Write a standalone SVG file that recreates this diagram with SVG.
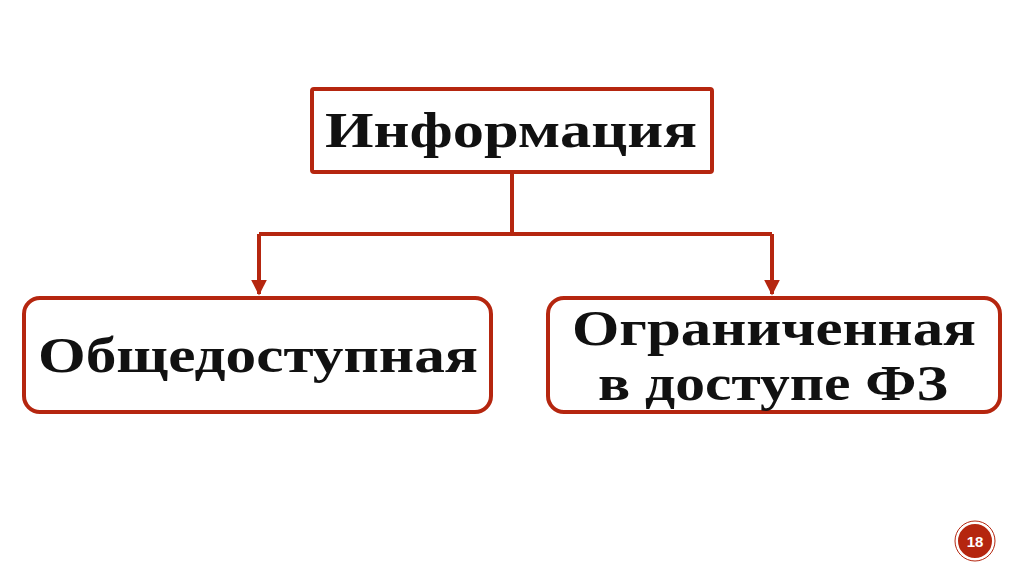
<svg xmlns="http://www.w3.org/2000/svg" width="1024" height="574" viewBox="0 0 1024 574">
<style>
.b{fill:#fff;stroke:#b5260f;stroke-width:4}
.t{font-family:"Liberation Serif",serif;font-weight:bold;font-size:50px;fill:#111;text-anchor:middle}
.c{stroke:#b5260f;stroke-width:4;fill:none}
</style>
<defs><marker id="a" viewBox="0 0 10 10" refX="9" refY="5" markerWidth="4" markerHeight="4" orient="auto"><path d="M0,0L10,5L0,10z" fill="#b5260f"/></marker></defs>
<rect width="1024" height="574" fill="#fff"/>
<g id="connectors">
<path class="c" d="M512,172V234M259,234H772"/>
<path class="c" d="M259,234V294" marker-end="url(#a)"/>
<path class="c" d="M772,234V294" marker-end="url(#a)"/>
</g>
<g id="info"><rect class="b" x="312" y="89" width="400" height="83" rx="2"/><text class="t" x="511" y="147" textLength="372" lengthAdjust="spacingAndGlyphs">Информация</text></g>
<g id="public"><rect class="b" x="24" y="298" width="467" height="114" rx="16"/><text class="t" x="258" y="372" textLength="440" lengthAdjust="spacingAndGlyphs">Общедоступная</text></g>
<g id="restricted"><rect class="b" x="548" y="298" width="452" height="114" rx="16"/><text class="t" x="774" y="345" textLength="404" lengthAdjust="spacingAndGlyphs">Ограниченная</text><text class="t" x="773" y="400" textLength="350" lengthAdjust="spacingAndGlyphs">в доступе ФЗ</text></g>
<g id="page"><circle cx="975" cy="541" r="18" fill="#b5260f" stroke="#fff" stroke-width="2"/><circle cx="975" cy="541" r="20" fill="none" stroke="#b5260f" stroke-width="1"/><text x="975" y="547" font-family="Liberation Sans,sans-serif" font-weight="bold" font-size="15" fill="#fff" text-anchor="middle">18</text></g>
</svg>
